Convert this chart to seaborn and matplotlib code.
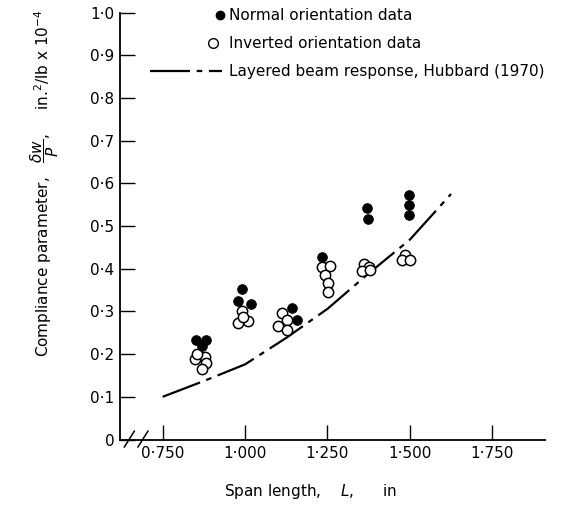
import numpy as np
import pandas as pd
import matplotlib
matplotlib.use("Agg")
import matplotlib.pyplot as plt
import seaborn as sns
from matplotlib.lines import Line2D
from matplotlib.legend_handler import HandlerLine2D

# ---- data ----
normal_x = [0.850, 0.880, 0.868, 0.990, 0.979, 1.017, 1.141, 1.157, 1.232,
            1.369, 1.374, 1.497, 1.497, 1.497]
normal_y = [0.233, 0.233, 0.220, 0.352, 0.324, 0.317, 0.307, 0.280, 0.427,
            0.541, 0.516, 0.573, 0.549, 0.525]

inverted_x = [0.849, 0.878, 0.881, 0.868, 0.855,
              0.990, 0.979, 1.010, 0.995,
              1.111, 1.126, 1.101, 1.126,
              1.232, 1.258, 1.242, 1.252, 1.252,
              1.360, 1.377, 1.355, 1.380,
              1.485, 1.475, 1.500]
inverted_y = [0.189, 0.194, 0.178, 0.165, 0.200,
              0.302, 0.272, 0.277, 0.288,
              0.296, 0.280, 0.266, 0.256,
              0.405, 0.406, 0.385, 0.366, 0.346,
              0.412, 0.405, 0.395, 0.398,
              0.432, 0.420, 0.420]

curve_x = [0.75, 0.875, 1.0, 1.125, 1.25, 1.375, 1.5, 1.625]
curve_y = [0.100, 0.137, 0.176, 0.238, 0.306, 0.389, 0.468, 0.575]

x_ticks = [0.75, 1.0, 1.25, 1.5, 1.75]
x_tick_labels = ["0·750", "1·000", "1·250", "1·500", "1·750"]
y_ticks = [0.0, 0.1, 0.2, 0.3, 0.4, 0.5, 0.6, 0.7, 0.8, 0.9, 1.0]
y_tick_labels = ["0", "0·1", "0·2", "0·3", "0·4", "0·5", "0·6", "0·7",
                 "0·8", "0·9", "1·0"]

labels = ["Normal orientation data", "Inverted orientation data",
          "Layered beam response, Hubbard (1970)"]

# ---- style ----
sns.set_style("ticks")
plt.rcParams["font.family"] = ["DejaVu Sans"]
plt.rcParams["font.size"] = 11
plt.rcParams["mathtext.fontset"] = "dejavusans"
for k in ("text.color", "axes.labelcolor", "xtick.color", "ytick.color",
          "axes.edgecolor"):
    plt.rcParams[k] = "black"

fig = plt.figure(figsize=(5.78, 5.08), dpi=100)
ax = fig.add_axes([120 / 578, 1 - 439.5 / 508, 425 / 578, 427 / 508])

df_n = pd.DataFrame({"x": normal_x, "y": normal_y})
df_i = pd.DataFrame({"x": inverted_x, "y": inverted_y})
df_c = pd.DataFrame({"x": curve_x, "y": curve_y})

dash = (0, (18, 3, 2.5, 3))
sns.lineplot(data=df_c, x="x", y="y", ax=ax, color="black", linewidth=1.6,
             sort=False, estimator=None, linestyle=dash, zorder=1)
sns.scatterplot(data=df_i, x="x", y="y", ax=ax, s=55, marker="o",
                facecolor="white", edgecolor="black", linewidth=1.1, zorder=2)
sns.scatterplot(data=df_n, x="x", y="y", ax=ax, s=50, marker="o",
                color="black", edgecolor="black", linewidth=0.5, zorder=3)

ax.set_xlim(0.6205, 1.910)
ax.set_ylim(0, 1.0)
ax.set_xticks(x_ticks, x_tick_labels)
ax.set_yticks(y_ticks, y_tick_labels)
ax.tick_params(axis="both", direction="in", length=11, width=1.0,
               labelsize=11, colors="black")
ax.tick_params(axis="x", pad=5)
ax.tick_params(axis="y", pad=4)
sns.despine(ax=ax)
for s in ("left", "bottom"):
    ax.spines[s].set_linewidth(1.3)
    ax.spines[s].set_color("black")

# axis break marks
for x0 in (0.010, 0.042):
    ax.plot([x0, x0 + 0.024], [-0.018, 0.020], transform=ax.transAxes,
            color="black", lw=1.1, clip_on=False)

ax.set_xlabel(r"Span length,    $\mathit{L}$,      in", fontsize=11)
ax.xaxis.set_label_coords(0.449, -0.10)
ax.set_ylabel(r"Compliance parameter,   $\dfrac{\delta w}{P}$,     in.$^2$/lb x 10$^{-4}$",
              fontsize=11)
ax.yaxis.set_label_coords(-0.138, 0.6)


class RightMarker(HandlerLine2D):
    def get_xdata(self, legend, xdescent, ydescent, width, height, fontsize):
        xm = -xdescent + width - 0.1 * fontsize
        return np.array([xm - 0.5, xm + 0.5]), np.array([xm])


class RightMarkerOpen(HandlerLine2D):
    def get_xdata(self, legend, xdescent, ydescent, width, height, fontsize):
        xm = -xdescent + width - 0.55 * fontsize
        return np.array([xm - 0.5, xm + 0.5]), np.array([xm])


h1 = Line2D([], [], marker="o", color="black", linestyle="none", markersize=6)
h2 = Line2D([], [], marker="o", markerfacecolor="white", markeredgecolor="black",
            markeredgewidth=1.0, linestyle="none", markersize=7)
h3 = Line2D([], [], color="black", linewidth=1.6, linestyle=dash)
leg = ax.legend([h1, h2, h3], labels, loc="upper left",
                bbox_to_anchor=(0.0706, 1.01), frameon=False, fontsize=11,
                handlelength=4.7, handletextpad=0.5, labelspacing=0.85,
                borderpad=0, borderaxespad=0,
                handler_map={h1: RightMarker(numpoints=1),
                             h2: RightMarkerOpen(numpoints=1)})

fig.savefig("out.png", dpi=100, facecolor="white")
